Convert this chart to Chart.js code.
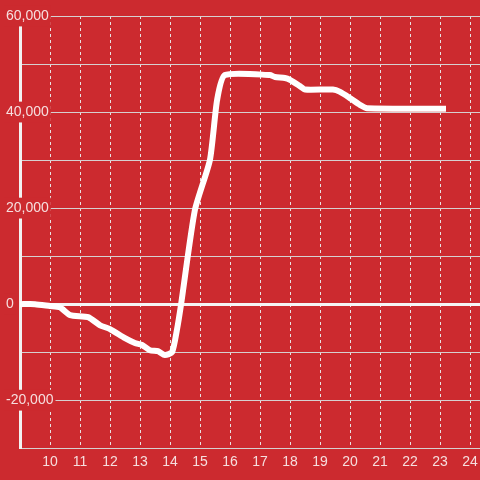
<!DOCTYPE html>
<html>
<head>
<meta charset="utf-8">
<script src="https://cdn.jsdelivr.net/npm/chart.js@4/dist/chart.umd.min.js"></script>
<style>
    html, body { margin: 0; padding: 0; background: #cc2a2f; }
    #wrap { width: 480px; height: 480px; }
</style>
</head>
<body>
<div id="wrap"><canvas id="chart"></canvas></div>
<script>
// hours of the day and the running value at each time
const hours = [9.0, 9.5, 10.0, 10.33, 10.67, 11.27, 11.67, 12.0, 12.5, 12.83, 13.07, 13.33, 13.6, 13.83, 14.07, 14.23, 14.37, 14.83, 15.33, 15.57, 15.83, 17.33, 17.5, 17.83, 18.0, 18.33, 18.5, 19.43, 19.67, 20.0, 20.33, 20.57, 23.2];
const values = [0, 0, -400, -650, -2300, -2700, -4400, -5200, -7100, -8100, -8500, -9600, -9800, -10600, -10000, -5400, 0, 19600, 30000, 42500, 47700, 47700, 47300, 47100, 46700, 45400, 44700, 44700, 44200, 42900, 41500, 40800, 40700];
const yLabels = [60000, 40000, 20000, 0, -20000];

const points = hours.map((h, i) => ({ x: h, y: values[i] }));

document.addEventListener("DOMContentLoaded", function () {
    Chart.defaults.font.family = "'Liberation Sans', Arial, sans-serif";
    Chart.defaults.font.size = 14;
    Chart.defaults.color = "#f6dede";

    new Chart(document.getElementById("chart"), {
        type: "line",
        data: {
            datasets: [{
                data: points,
                borderColor: "#ffffff",
                borderWidth: 6,
                borderCapStyle: "butt",
                pointRadius: 0,
                tension: 0.2,
                fill: false
            }]
        },
        options: {
            responsive: true,
            maintainAspectRatio: false,
            animation: false,
            layout: { padding: { top: 16, left: 0, right: 0, bottom: 7 } },
            plugins: { legend: { display: false }, tooltip: { enabled: false } },
            scales: {
                x: {
                    type: "linear",
                    min: 9,
                    max: 24.333,
                    grid: {
                        color: "#e8e2e2",
                        lineWidth: 1,
                        drawTicks: true,
                        tickLength: 4,
                        tickColor: "rgba(0,0,0,0)"
                    },
                    border: { display: false, dash: [3, 3] },
                    ticks: {
                        stepSize: 1,
                        includeBounds: false,
                        padding: 2,
                        maxRotation: 0,
                        callback: v => (v === 9 ? "" : v)
                    }
                },
                y: {
                    min: -30000,
                    max: 60000,
                    // labels sit on top of the axis line: fixed 20px box, mirrored text
                    afterFit: scale => { scale.width = 20; },
                    border: { display: true, color: "#f2f2f2", width: 3 },
                    grid: {
                        color: ctx => (ctx.tick && ctx.tick.value === 0 ? "#f4f4f4" : "#d6d0d0"),
                        lineWidth: ctx => (ctx.tick && ctx.tick.value === 0 ? 3 : 1),
                        drawTicks: false
                    },
                    ticks: {
                        stepSize: 10000,
                        mirror: true,
                        padding: -14,
                        showLabelBackdrop: ctx => yLabels.includes(ctx.tick.value),
                        backdropColor: "#cc2a2f",
                        backdropPadding: 2,
                        callback: v => (yLabels.includes(v) ? v.toLocaleString("en-US") : "")
                    }
                }
            }
        }
    });
});
</script>
</body>
</html>
